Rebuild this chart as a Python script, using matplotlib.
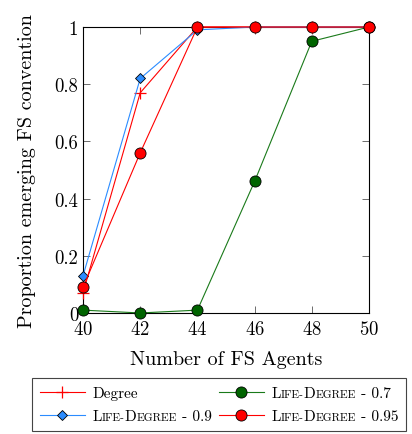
import matplotlib.pyplot as plt
import numpy as np
from matplotlib.offsetbox import HPacker, TextArea

agents = [40, 42, 44, 46, 48, 50]
degree = [0.07, 0.77, 1.0, 1.0, 1.0, 1.0]
life_degree_09 = [0.13, 0.82, 0.99, 1.0, 1.0, 1.0]
life_degree_07 = [0.01, 0.0, 0.01, 0.46, 0.95, 1.0]
life_degree_095 = [0.09, 0.56, 1.0, 1.0, 1.0, 1.0]
series_labels = ['Degree', 'Life-Degree - 0.9', 'Life-Degree - 0.7', 'Life-Degree - 0.95']

plt.rcParams['font.family'] = ['cmr10', 'DejaVu Serif']
plt.rcParams['axes.formatter.use_mathtext'] = True
plt.rcParams['mathtext.fontset'] = 'cm'

fig = plt.figure(figsize=(4.12, 4.35), dpi=100)
ax = fig.add_axes([0.2015, 0.2782, 0.6941, 0.6574])

ax.plot(agents, degree, color='#ff0000', lw=0.8, marker='+', ms=9, mew=0.9,
        label=series_labels[0], clip_on=False, zorder=3)
ax.plot(agents, life_degree_09, color='#2b8cff', lw=0.8, marker='D', ms=5.5,
        mfc='#2b8cff', mec='black', mew=0.6, label=series_labels[1], clip_on=False, zorder=4)
ax.plot(agents, life_degree_07, color='#1a7a1a', lw=0.8, marker='o', ms=8,
        mfc='#006400', mec='black', mew=0.6, label=series_labels[2], clip_on=False, zorder=3)
ax.plot(agents, life_degree_095, color='#ff0000', lw=0.8, marker='o', ms=8,
        mfc='#ff0000', mec='black', mew=0.6, label=series_labels[3], clip_on=False, zorder=5)

ax.set_xlim(40, 50)
ax.set_ylim(0, 1)
ax.set_xticks(agents)
ax.set_yticks([0, 0.2, 0.4, 0.6, 0.8, 1])
ax.set_yticklabels(['0', '0.2', '0.4', '0.6', '0.8', '1'])
ax.tick_params(direction='in', top=True, right=True, length=5, width=0.6,
               labelsize=13.5, color='#555555')
ax.tick_params(axis='x', pad=5)
for s in ax.spines.values():
    s.set_linewidth(0.8)
ax.set_xlabel('Number of FS Agents', fontsize=14.5, labelpad=9)
ax.set_ylabel('Proportion emerging FS convention', fontsize=14.5, labelpad=13)

handles, labels = ax.get_legend_handles_labels()
leg = fig.legend(handles, labels,
                 loc='upper left', bbox_to_anchor=(0.078, 0.128), ncol=2,
                 fontsize=11, frameon=True, fancybox=False, edgecolor='#444444',
                 framealpha=1, handlelength=2.95, columnspacing=0.45, handletextpad=0.5,
                 borderpad=0.5, labelspacing=0.62, borderaxespad=0)
leg.get_frame().set_linewidth(0.8)

# fake small caps for "Life-Degree" by swapping the label boxes
big, small = 11, 8.2
for column in leg._legend_handle_box.get_children():
    for row in column.get_children():
        area = row.get_children()[1]
        s = area.get_text()
        if not s.startswith('Life-Degree'):
            continue
        rest = s[len('Life-Degree'):]
        parts = [('L', big), ('IFE-', small), ('D', big), ('EGREE', small), (rest, big)]
        boxes = [TextArea(p, textprops=dict(fontsize=f, family=['cmr10', 'DejaVu Serif']))
                 for p, f in parts]
        packer = HPacker(children=boxes, align='baseline', pad=0, sep=0)
        packer.set_figure(fig)
        row._children[1] = packer

fig.savefig('out.png', dpi=100)
